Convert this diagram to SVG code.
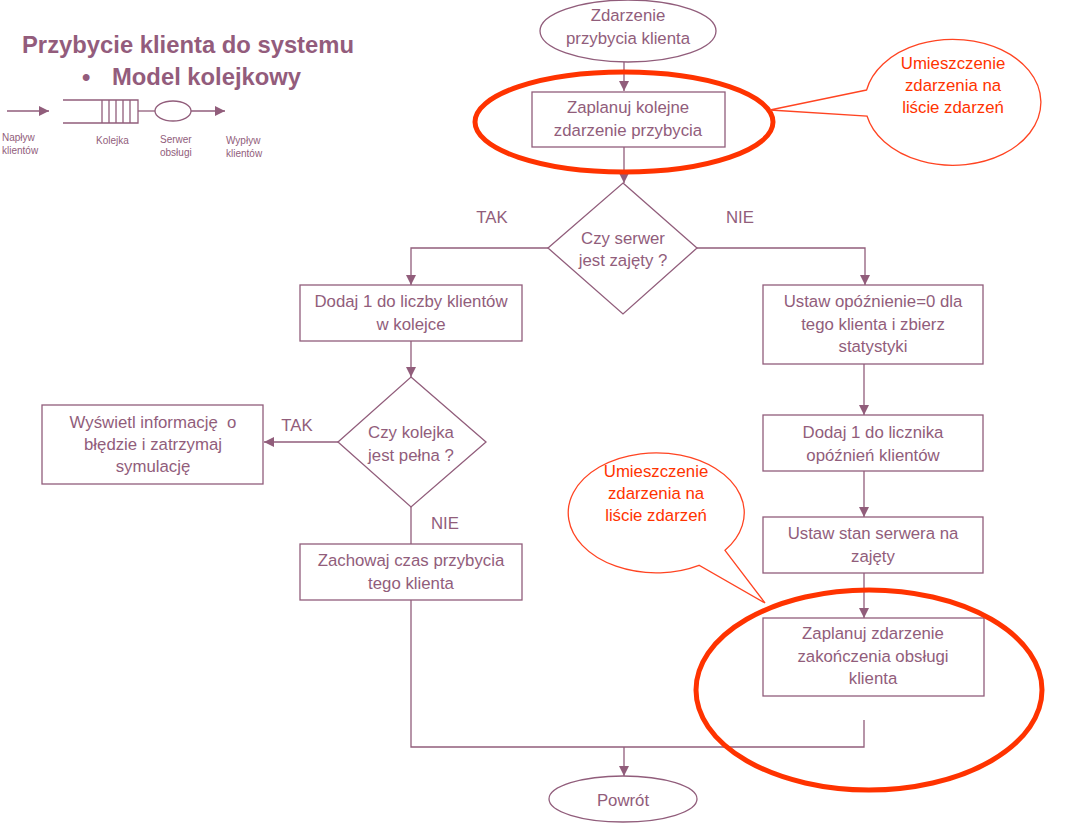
<svg xmlns="http://www.w3.org/2000/svg" width="1070" height="830" viewBox="0 0 1070 830">
<defs>
<marker id="ah" markerUnits="userSpaceOnUse" markerWidth="10" markerHeight="10" viewBox="0 0 10 10" refX="10" refY="5" orient="auto">
<path d="M0,0 L10,5 L0,10 Z" fill="#915D7B"/>
</marker>
<style>
.t{font-family:"Liberation Sans",Arial,sans-serif;font-size:16.8px;fill:#915D7B;text-anchor:middle}
.s{font-family:"Liberation Sans",Arial,sans-serif;font-size:10px;fill:#915D7B}
.r{font-family:"Liberation Sans",Arial,sans-serif;font-size:16.8px;fill:#FF3300;text-anchor:middle}
.h{font-family:"Liberation Sans",Arial,sans-serif;font-size:23.8px;font-weight:bold;fill:#935C7C}
.n{fill:#fff;stroke:#915D7B;stroke-width:1.3}
.c{fill:none;stroke:#915D7B;stroke-width:1.3}
.ca{fill:none;stroke:#915D7B;stroke-width:1.3;marker-end:url(#ah)}
.hl{fill:none;stroke:#FF3300;stroke-width:5}
.cb{fill:#fff;stroke:#FF4422;stroke-width:1.3}
</style>
</defs>
<rect width="1070" height="830" fill="#fff"/>

<g id="title">
<text class="h" x="22" y="53">Przybycie klienta do systemu</text>
<text class="h" x="82" y="85">•</text>
<text class="h" x="112" y="85">Model kolejkowy</text>
</g>

<g id="queue-model">
<line class="ca" x1="7" y1="111" x2="49" y2="111"/>
<path class="c" d="M63 100 H138 V123 H63"/>
<path class="c" d="M102 100 V123 M109 100 V123 M116 100 V123 M123 100 V123 M130 100 V123"/>
<line class="c" x1="138" y1="111" x2="155" y2="111"/>
<ellipse class="c" cx="173" cy="111" rx="18" ry="10"/>
<line class="ca" x1="191" y1="111" x2="225" y2="111"/>
<text class="s" x="2" y="141">Napływ</text>
<text class="s" x="2" y="154">klientów</text>
<text class="s" x="96" y="144">Kolejka</text>
<text class="s" x="160" y="143">Serwer</text>
<text class="s" x="160" y="156">obsługi</text>
<text class="s" x="226" y="144">Wypływ</text>
<text class="s" x="226" y="157">klientów</text>
</g>

<g id="connectors">
<path class="ca" d="M624 62 V91"/>
<path class="ca" d="M624 147 V183"/>
<path class="ca" d="M548 248 H411 V285"/>
<path class="ca" d="M697 248 H865 V285"/>
<path class="ca" d="M411 341 V377"/>
<path class="ca" d="M338 442 H264"/>
<path class="c" d="M411 507 V544"/>
<path class="c" d="M411 600 V747 H864 V720"/>
<path class="ca" d="M624 747 V776"/>
<path class="ca" d="M864 360 V415"/>
<path class="ca" d="M864 471 V517"/>
<path class="ca" d="M864 573 V618"/>
</g>

<g id="start">
<ellipse class="n" cx="628" cy="31" rx="88" ry="31"/>
<text class="t" x="628" y="21">Zdarzenie</text>
<text class="t" x="628" y="44">przybycia klienta</text>
</g>

<g id="schedule-arrival">
<rect class="n" x="532" y="92" width="193" height="55"/>
<text class="t" x="628" y="113">Zaplanuj kolejne</text>
<text class="t" x="628" y="136">zdarzenie przybycia</text>
</g>

<g id="server-busy">
<polygon class="n" points="623,183 697,248 623,314 548,248"/>
<text class="t" x="623" y="244">Czy serwer</text>
<text class="t" x="623" y="266">jest zajęty ?</text>
</g>

<g id="labels">
<text class="t" x="492" y="223">TAK</text>
<text class="t" x="740" y="223">NIE</text>
<text class="t" x="297" y="431">TAK</text>
<text class="t" x="445" y="529">NIE</text>
</g>

<g id="add-queue">
<rect class="n" x="300" y="285" width="222" height="56"/>
<text class="t" x="411" y="307">Dodaj 1 do liczby klientów</text>
<text class="t" x="411" y="330">w kolejce</text>
</g>

<g id="queue-full">
<polygon class="n" points="411,377 486,442 411,507 338,442"/>
<text class="t" x="411" y="438">Czy kolejka</text>
<text class="t" x="411" y="461">jest pełna ?</text>
</g>

<g id="error">
<rect class="n" x="42" y="405" width="221" height="79"/>
<text class="t" x="153" y="428" xml:space="preserve">Wyświetl informację  o</text>
<text class="t" x="153" y="450">błędzie i zatrzymaj</text>
<text class="t" x="153" y="472">symulację</text>
</g>

<g id="store-time">
<rect class="n" x="300" y="544" width="222" height="56"/>
<text class="t" x="411" y="566">Zachowaj czas przybycia</text>
<text class="t" x="411" y="589">tego klienta</text>
</g>

<g id="set-delay">
<rect class="n" x="763" y="285" width="220" height="79"/>
<text class="t" x="873" y="307">Ustaw opóźnienie=0 dla</text>
<text class="t" x="873" y="330">tego klienta i zbierz</text>
<text class="t" x="873" y="352">statystyki</text>
</g>

<g id="add-delay-counter">
<rect class="n" x="763" y="415" width="220" height="56"/>
<text class="t" x="873" y="438">Dodaj 1 do licznika</text>
<text class="t" x="873" y="461">opóźnień klientów</text>
</g>

<g id="set-server-busy">
<rect class="n" x="763" y="517" width="220" height="56"/>
<text class="t" x="873" y="539">Ustaw stan serwera na</text>
<text class="t" x="873" y="562">zajęty</text>
</g>

<g id="schedule-departure">
<rect class="n" x="763" y="618" width="221" height="78"/>
<text class="t" x="873" y="639">Zaplanuj zdarzenie</text>
<text class="t" x="873" y="662">zakończenia obsługi</text>
<text class="t" x="873" y="684">klienta</text>
</g>

<g id="end">
<ellipse class="n" cx="623" cy="799" rx="74" ry="23"/>
<text class="t" x="623" y="806">Powrót</text>
</g>

<g id="highlight-top">
<ellipse class="hl" cx="624" cy="122" rx="149" ry="50"/>
</g>

<g id="highlight-bottom">
<ellipse class="hl" cx="869" cy="690" rx="173" ry="100"/>
</g>

<g id="callout-top">
<path class="cb" d="M866.6 90 L770 110 L867 116 A88 63 0 1 0 866.6 90 Z"/>
<text class="r" x="953" y="69">Umieszczenie</text>
<text class="r" x="953" y="91">zdarzenia na</text>
<text class="r" x="953" y="113">liście zdarzeń</text>
</g>

<g id="callout-bottom">
<path class="cb" d="M725 550.3 L765 603 L699 565.3 A88 60 0 1 1 725 550.3 Z"/>
<text class="r" x="656" y="477">Umieszczenie</text>
<text class="r" x="656" y="499">zdarzenia na</text>
<text class="r" x="656" y="521">liście zdarzeń</text>
</g>
</svg>
